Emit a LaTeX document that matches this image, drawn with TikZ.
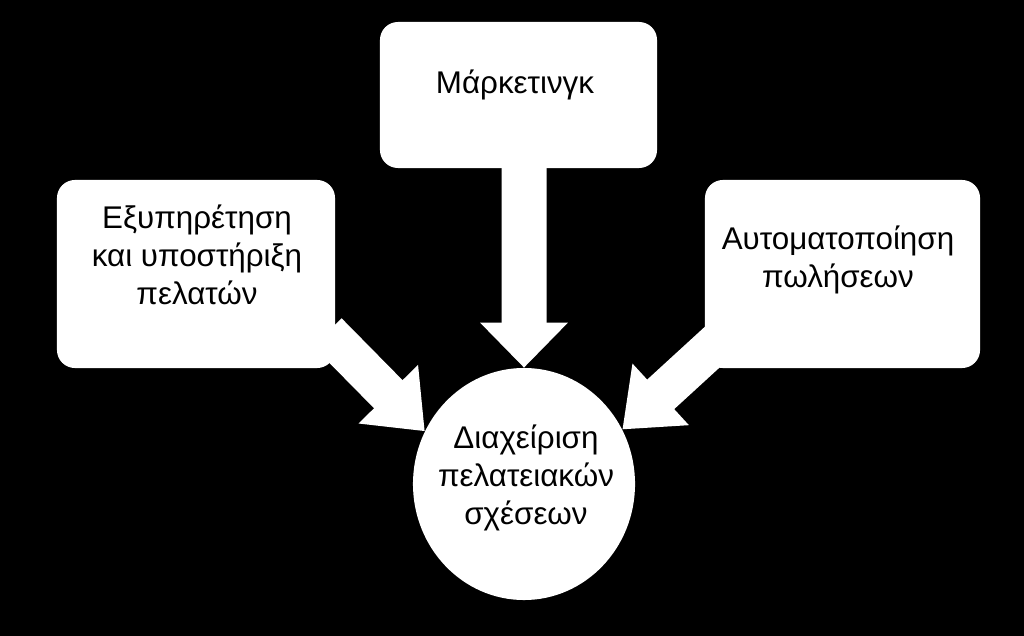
\documentclass[tikz,border=0pt]{standalone}
\usepackage{fontspec}
\setmainfont{Liberation Sans}
\usetikzlibrary{arrows.meta,shapes.geometric}
\definecolor{crmInk}{HTML}{000000}
\definecolor{crmPaper}{HTML}{FFFFFF}
\tikzset{
  every picture/.style={font=\fontsize{22.3}{26.8}\selectfont, text=crmInk},
  crm box/.style={fill=crmPaper, rounded corners=0.45cm, inner sep=0pt},
  crm hub/.style={ellipse, fill=crmPaper, inner sep=0pt,
    minimum width=5.55cm, minimum height=5.8cm},
  crm label/.style={align=center, inner sep=0pt},
  crm arrow/.style={draw=crmPaper, line cap=butt, line width=1cm,
    -{Triangle[length=1.3cm,width=2cm,fill=crmPaper]}}
}

\begin{document}
\begin{tikzpicture}[x=0.025cm,y=-0.025cm]
  \fill[crmInk] (0,0) rectangle (1024,636);
  \useasboundingbox (0,0) rectangle (1024,636);
  % the three fields around the hub
  \node[crm box, minimum width=6.925cm, minimum height=3.65cm] (mkt) at (518.5,95) {};
  \node[crm box, minimum width=6.95cm, minimum height=4.7cm] (svc) at (196,274) {};
  \node[crm box, minimum width=6.875cm, minimum height=4.7cm] (sales) at (842.5,274) {};
  \node[crm hub] (crm) at (524,484) {};
  % block arrows into the hub
  \draw[crm arrow, line width=1.125cm,
    -{Triangle[length=1.125cm,width=2.125cm,fill=crmPaper]}]
    ([shift={(5.5,-8)}]mkt.south) -- (crm.north);
  \draw[crm arrow] ([shift={(-8,-36)}]svc.south east) -- (crm.152);
  \draw[crm arrow] ([shift={(15,-28)}]sales.south west) -- (crm.29);
  % texts
  \node[crm label] (mkt-text) at (515,85) {Μάρκετινγκ};
  \node[crm label] (svc-text) at (197,255) {Εξυπηρέτηση\\και υποστήριξη\\πελατών};
  \node[crm label] (sales-text) at (838,260) {Αυτοματοποίηση\\πωλήσεων};
  \node[crm label] (crm-text) at (526,478) {Διαχείριση\\πελατειακών\\σχέσεων};
\end{tikzpicture}
\end{document}
